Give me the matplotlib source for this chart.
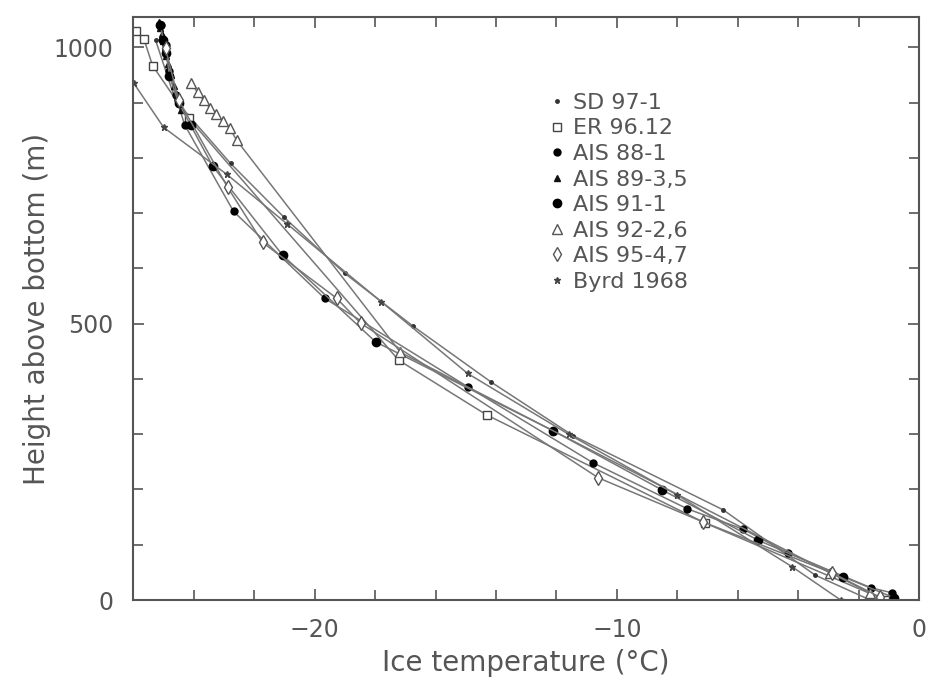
import matplotlib.pyplot as plt
from matplotlib.lines import Line2D
from matplotlib.ticker import MultipleLocator

# temperature (deg C) and height above bottom (m) for each borehole profile
sd_temp = [-25.26, -24.6, -22.78, -21.02, -19.0, -16.73, -14.15, -11.44, -6.48, -3.44, -1.62]
sd_h = [1013, 904, 790, 693, 591, 495, 394, 297, 163, 45, 0]

er_temp = [-25.9, -25.65, -25.36, -24.17, -17.22, -14.31, -7.07, -1.12]
er_h = [1030, 1016, 967, 872, 434, 335, 139, 0]

ais88_temp = [-25.09, -24.93, -24.83, -24.6, -24.3, -22.68, -19.67, -14.91, -10.78, -7.67, -5.82, -4.33, -1.59, -0.89]
ais88_h = [1040, 1004, 958, 913, 860, 703, 546, 385, 248, 165, 128, 85, 22, 13]

ais89_temp = [-25.16, -25.1, -25.05, -25.0, -24.95, -24.9, -24.85, -24.75, -24.65, -24.6, -24.5, -24.43]
ais89_h = [1045, 1035, 1025, 1012, 1000, 985, 970, 950, 930, 915, 900, 886]

ais91_temp = [-25.1, -25.0, -24.9, -24.8, -24.5, -24.1, -23.37, -21.06, -17.98, -12.10, -8.50, -5.32, -2.51, -0.83]
ais91_h = [1040, 1013, 990, 949, 900, 859, 785, 624, 467, 306, 199, 108, 42, 4]

ais92_temp = [-24.1, -23.87, -23.67, -23.47, -23.27, -23.04, -22.81, -22.58, -17.16, -2.94, -1.62]
ais92_h = [935, 919, 904, 891, 879, 866, 854, 832, 448, 49, 13]

ais95_temp = [-24.93, -24.5, -22.88, -21.72, -19.27, -18.48, -10.61, -7.14, -2.88, -1.29]
ais95_h = [998, 905, 747, 647, 546, 501, 221, 141, 49, 5]

byrd_temp = [-25.98, -24.99, -22.9, -20.9, -17.8, -14.94, -11.6, -8.0, -4.2, -2.6]
byrd_h = [935, 855, 770, 680, 540, 410, 300, 190, 60, 0]

labels = ["SD 97-1", "ER 96.12", "AIS 88-1", "AIS 89-3,5", "AIS 91-1",
          "AIS 92-2,6", "AIS 95-4,7", "Byrd 1968"]

series = [
    (sd_temp, sd_h, dict(marker=".", ms=5, mfc="#333333", mec="#333333")),
    (er_temp, er_h, dict(marker="s", ms=5.5, mfc="white", mec="#444444", mew=1.0)),
    (ais88_temp, ais88_h, dict(marker="o", ms=5, mfc="black", mec="black")),
    (ais89_temp, ais89_h, dict(marker="^", ms=4.5, mfc="#111111", mec="#111111")),
    (ais91_temp, ais91_h, dict(marker="o", ms=6, mfc="black", mec="black")),
    (ais92_temp, ais92_h, dict(marker="^", ms=6.5, mfc="white", mec="#555555", mew=1.0)),
    (ais95_temp, ais95_h, dict(marker="d", ms=7, mfc="white", mec="#555555", mew=1.0)),
    (byrd_temp, byrd_h, dict(marker="*", ms=5, mfc="#444444", mec="#444444")),
]

gray = "#555555"
fig = plt.figure(figsize=(9.38, 6.78), dpi=100)
ax = fig.add_axes([0.142, 0.115, 0.838, 0.86])

for t, h, style in series:
    ax.plot(t, h, color="#777777", lw=1.1, **style)

ax.set_xlim(-26, 0)
ax.set_ylim(0, 1055)
ax.xaxis.set_major_locator(MultipleLocator(10))
ax.xaxis.set_minor_locator(MultipleLocator(2))
ax.yaxis.set_major_locator(MultipleLocator(500))
ax.yaxis.set_minor_locator(MultipleLocator(100))
ax.tick_params(which="both", direction="in", top=True, right=True,
               color=gray, width=1.2)
ax.tick_params(which="major", length=8, labelsize=17, labelcolor=gray)
ax.tick_params(which="minor", length=7)
ax.tick_params(axis="x", pad=13)
ax.tick_params(axis="y", pad=14)
for sp in ax.spines.values():
    sp.set_color(gray)
    sp.set_linewidth(1.5)

ax.set_xlabel("Ice temperature (°C)", fontsize=20, color=gray, labelpad=5)
ax.set_ylabel("Height above bottom (m)", fontsize=20, color=gray, labelpad=2)

handles = [Line2D([], [], ls="none", **style) for _, _, style in series]
leg = ax.legend(handles, labels, loc="upper left", bbox_to_anchor=(0.52, 0.885),
                frameon=False, fontsize=16, handlelength=0.6, handletextpad=0.4,
                labelspacing=0.25, borderaxespad=0)
for txt in leg.get_texts():
    txt.set_color(gray)

plt.savefig("out.png", dpi=100)
